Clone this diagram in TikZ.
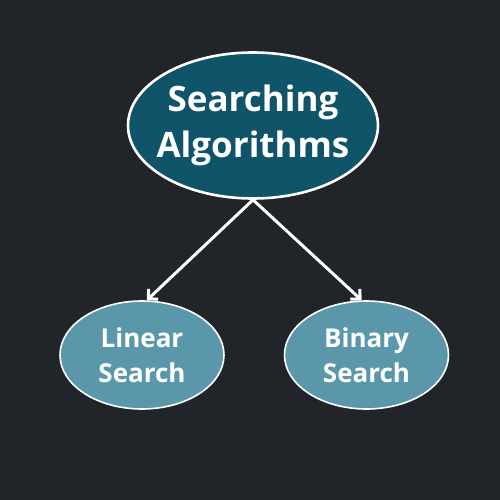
\documentclass[tikz,border=0pt]{standalone}
\usepackage{fontspec}
\setmainfont{Open Sans}
\usetikzlibrary{shapes.geometric,arrows.meta}
\definecolor{bgdark}{HTML}{212428}
\definecolor{rootfill}{HTML}{0F5469}
\definecolor{leaffill}{HTML}{5B97AA}
\tikzset{
  rootnode/.style={ellipse, draw=white, line width=2.6pt, fill=rootfill,
    minimum width=250pt, minimum height=146pt, inner xsep=-30pt, inner ysep=0pt,
    text=white, font=\bfseries\fontsize{35}{46}\selectfont, align=center},
  leafnode/.style={ellipse, draw=white, line width=1.6pt, fill=leaffill,
    minimum width=164pt, minimum height=108pt, inner xsep=-20pt, inner ysep=0pt,
    text=white, font=\bfseries\fontsize{26}{35}\selectfont, align=center},
  link/.style={draw=white, line width=3pt, -{Straight Barb[length=7pt,width=14pt,line width=3pt]}}
}
\begin{document}
\begin{tikzpicture}[x=1pt,y=-1pt]
  \fill[bgdark] (0,0) rectangle (500,500);
  \useasboundingbox (0,0) rectangle (500,500);
  \node[rootnode] (root) at (253,125.5) {Searching\\Algorithms};
  \node[leafnode] (lin) at (142,355) {Linear\\Search};
  \node[leafnode] (bin) at (366.5,355) {Binary\\Search};
  \draw[link] (root.south) -- (lin.85);
  \draw[link] (root.south) -- (bin.95);
\end{tikzpicture}
\end{document}
